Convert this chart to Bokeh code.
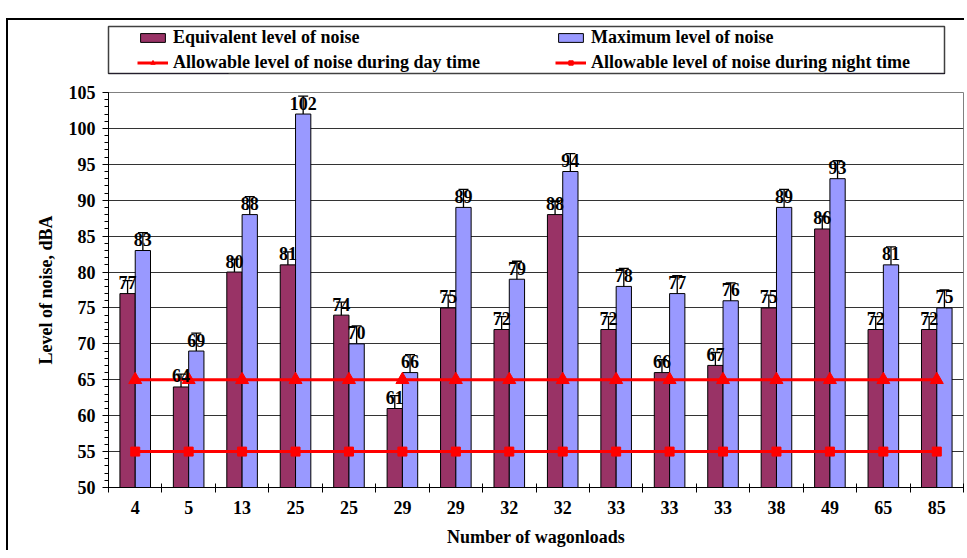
import numpy as np
from bokeh.plotting import figure
from bokeh.layouts import column
from bokeh.models import (ColumnDataSource, Range1d, FixedTicker, SingleIntervalTicker,
                          Legend, LegendItem, Whisker, TeeHead)
from bokeh.transform import dodge
from bokeh.core.properties import value
from bokeh.embed import file_html
from bokeh.resources import INLINE

# ---------------- data ----------------
wagonloads = ["4", "5", "13", "25", "25", "29", "29", "32", "32", "33", "33", "33", "38", "49", "65", "85"]
equivalent = [77, 64, 80, 81, 74, 61, 75, 72, 88, 72, 66, 67, 75, 86, 72, 72]
maximum = [83, 69, 88, 102, 70, 66, 89, 79, 94, 78, 77, 76, 89, 93, 81, 75]
day_limit = [65] * 16
night_limit = [55] * 16
equivalent_err = 1.8
maximum_err = 2.5

FONT = "Liberation Serif"
C_EQ = "#993366"
C_MX = "#9999FF"
RED = "#FF0000"
BAR_W = 0.286
OFF = BAR_W / 2

idx = list(range(len(wagonloads)))
src = ColumnDataSource(dict(
    idx=idx,
    eq=equivalent, mx=maximum,
    day=day_limit, night=night_limit,
    eq_lo=[v - equivalent_err for v in equivalent], eq_hi=[v + equivalent_err for v in equivalent],
    mx_lo=[v - maximum_err for v in maximum], mx_hi=[v + maximum_err for v in maximum],
    eq_txt=[str(v) for v in equivalent], mx_txt=[str(v) for v in maximum],
))

# ---------------- main chart ----------------
p = figure(frame_width=855, frame_height=395, output_backend="svg", toolbar_location=None,
           x_range=Range1d(-0.5, len(idx) - 0.5), y_range=Range1d(50, 105),
           min_border_left=96, min_border_right=5, min_border_top=12, min_border_bottom=63,
           background_fill_color="white", border_fill_color="white")
p.outline_line_color = "#808080"
p.outline_line_width = 1

r_eq = p.vbar(x=dodge("idx", -OFF), top="eq", bottom=0, width=BAR_W, source=src,
              fill_color=C_EQ, line_color="black", line_width=1)
r_mx = p.vbar(x=dodge("idx", OFF), top="mx", bottom=0, width=BAR_W, source=src,
              fill_color=C_MX, line_color="black", line_width=1)

for base, lo, hi in ((dodge("idx", -OFF), "eq_lo", "eq_hi"), (dodge("idx", OFF), "mx_lo", "mx_hi")):
    w = Whisker(source=src, base=base, lower=lo, upper=hi, line_color="black", line_width=1.3,
                upper_head=TeeHead(size=10, line_color="black", line_width=1.3),
                lower_head=TeeHead(size=10, line_color="black", line_width=1.3))
    p.add_layout(w)

r_day_l = p.line("idx", "day", source=src, line_color=RED, line_width=3)
r_day_m = p.scatter("idx", "day", source=src, marker="triangle", size=13,
                    fill_color=RED, line_color=RED)
r_ngt_l = p.line("idx", "night", source=src, line_color=RED, line_width=3)
r_ngt_m = p.scatter("idx", "night", source=src, marker="square", size=9,
                    fill_color=RED, line_color=RED)

for xx, yy, tt in ((dodge("idx", -OFF), "eq", "eq_txt"), (dodge("idx", OFF), "mx", "mx_txt")):
    p.text(x=xx, y=yy, text=tt, source=src, text_align="center", text_baseline="alphabetic",
           y_offset=-11, text_font=value(FONT), text_font_style="bold",
           text_font_size="18px", text_color="black")

p.yaxis.ticker = SingleIntervalTicker(interval=5, num_minor_ticks=5)
p.ygrid.ticker = SingleIntervalTicker(interval=5)
p.ygrid.grid_line_color = "#333333"
p.ygrid.grid_line_width = 1
p.xgrid.visible = False

p.yaxis.axis_label = "Level of noise, dBA"
p.yaxis.major_tick_out = 6
p.yaxis.major_tick_in = 0
p.yaxis.minor_tick_out = 4
p.yaxis.minor_tick_in = 0
p.yaxis.major_label_standoff = 7
p.yaxis.axis_label_standoff = 10

p.xaxis.ticker = FixedTicker(ticks=idx, minor_ticks=list(np.arange(-0.5, len(idx), 1.0)))
p.xaxis.major_label_overrides = {i: lab for i, lab in enumerate(wagonloads)}
p.xaxis.axis_label = "Number of wagonloads"
p.xaxis.major_tick_out = 0
p.xaxis.major_tick_in = 0
p.xaxis.minor_tick_out = 5
p.xaxis.minor_tick_in = 4
p.xaxis.major_label_standoff = 8
p.xaxis.axis_label_standoff = 10

for ax in (p.xaxis[0], p.yaxis[0]):
    ax.axis_line_color = "black"
    ax.major_tick_line_color = "black"
    ax.minor_tick_line_color = "black"
    ax.major_label_text_font = FONT
    ax.major_label_text_font_style = "bold"
    ax.major_label_text_font_size = "18px"
    ax.major_label_text_color = "black"
    ax.axis_label_text_font = FONT
    ax.axis_label_text_font_style = "bold"
    ax.axis_label_text_font_size = "18px"
    ax.axis_label_text_color = "black"

# ---------------- legend strip (its frame is the legend box) ----------------
pl = figure(frame_width=836, frame_height=47, output_backend="svg", toolbar_location=None,
            x_range=Range1d(0, 1), y_range=Range1d(1000, 1001),
            x_axis_type=None, y_axis_type=None,
            min_border_left=100, min_border_right=20, min_border_top=6, min_border_bottom=7,
            background_fill_color="white", border_fill_color="white")
pl.grid.visible = False
pl.outline_line_color = "#404040"
pl.outline_line_width = 1.5

# legend proxies (same data and styles, outside this strip's visible range)
l_eq = pl.vbar(x="idx", top="eq", bottom=0, width=BAR_W, source=src,
               fill_color=C_EQ, line_color="black", line_width=1)
l_mx = pl.vbar(x="idx", top="mx", bottom=0, width=BAR_W, source=src,
               fill_color=C_MX, line_color="black", line_width=1)
l_day_l = pl.line("idx", "day", source=src, line_color=RED, line_width=3)
l_day_m = pl.scatter("idx", "day", source=src, marker="triangle", size=13,
                     fill_color=RED, line_color=RED)
l_ngt_l = pl.line("idx", "night", source=src, line_color=RED, line_width=3)
l_ngt_m = pl.scatter("idx", "night", source=src, marker="square", size=9,
                     fill_color=RED, line_color=RED)

leg_style = dict(label_text_font=FONT, label_text_font_style="bold", label_text_font_size="18px",
                 label_text_color="black", glyph_width=31, glyph_height=11, label_standoff=5,
                 spacing=4, padding=0, margin=0, label_height=20,
                 border_line_color=None, background_fill_alpha=0)
leg1 = Legend(items=[LegendItem(label="Equivalent level of noise", renderers=[l_eq]),
                     LegendItem(label="Allowable level of noise during day time", renderers=[l_day_l, l_day_m])],
              location=(29, 0), **leg_style)
leg2 = Legend(items=[LegendItem(label="Maximum level of noise", renderers=[l_mx]),
                     LegendItem(label="Allowable level of noise during night time", renderers=[l_ngt_l, l_ngt_m])],
              location=(447, 0), **leg_style)
pl.add_layout(leg1)
pl.add_layout(leg2)

layout = column(pl, p, spacing=0,
                styles={"border-top": "2px solid black", "border-left": "2px solid black",
                        "margin-top": "18px", "margin-left": "6px"})

open("out.html", "w").write(file_html(layout, INLINE))
